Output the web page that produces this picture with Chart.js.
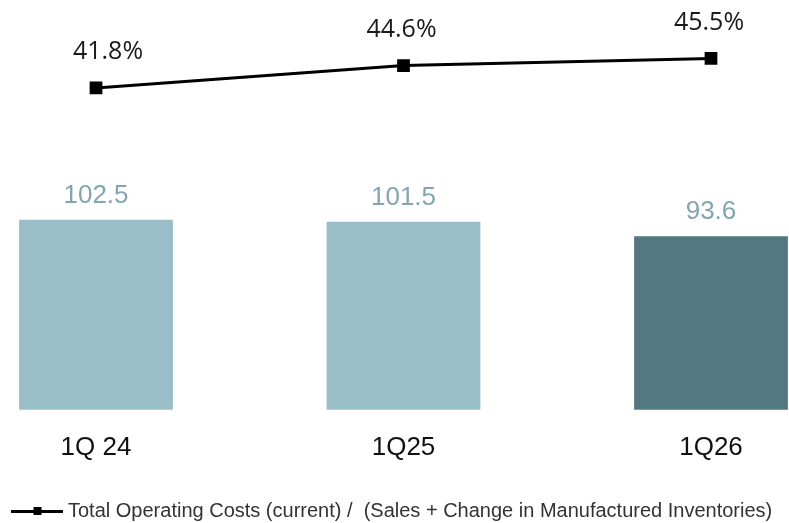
<!DOCTYPE html>
<html>
<head>
<meta charset="utf-8">
<script src="https://cdn.jsdelivr.net/npm/chart.js@4"></script>
<style>
  html, body { margin: 0; padding: 0; background: #fff; }
  #wrap { width: 789px; height: 523px; }
</style>
</head>
<body>
<div id="wrap"><canvas id="costChart"></canvas></div>
<script>
const quarters = ['1Q 24', '1Q25', '1Q26'];
const costValues = [102.5, 101.5, 93.6];
const costRatio = [41.8, 44.6, 45.5];
const ratioLabel = 'Total Operating Costs (current) /  (Sales + Change in Manufactured Inventories)';

const FONT = "'Liberation Sans', Arial, sans-serif";
const PCT_FONT = "'Open Sans', 'Liberation Sans', sans-serif";

// legend marker: short line with a small square in the middle
const marker = document.createElement('canvas');
marker.width = 52; marker.height = 10;
(function () {
    const m = marker.getContext('2d');
    m.fillStyle = '#000';
    m.fillRect(0, 4, 52, 3);
    m.fillRect(23, 1, 8, 8);
})();

const valueLabels = {
    id: 'valueLabels',
    afterDatasetsDraw(chart) {
        const ctx = chart.ctx;
        ctx.save();
        ctx.textAlign = 'center';
        ctx.textBaseline = 'middle';
        chart.data.datasets.forEach((ds, i) => {
            const meta = chart.getDatasetMeta(i);
            meta.data.forEach((el, j) => {
                if (ds.type === 'line') {
                    ctx.fillStyle = '#1a1a1a';
                    ctx.font = '25px ' + PCT_FONT;
                    ctx.fillText(ds.data[j].toFixed(1) + '%', el.x + (j === 0 ? 12 : -2), el.y - 36);
                } else {
                    ctx.fillStyle = '#82a6b0';
                    ctx.font = '26px ' + FONT;
                    ctx.fillText(ds.data[j].toFixed(1), el.x, el.y - 24);
                }
            });
        });
        ctx.restore();
    }
};

new Chart(document.getElementById('costChart'), {
    data: {
        labels: quarters,
        datasets: [
            {
                type: 'line',
                label: ratioLabel,
                data: costRatio,
                yAxisID: 'y1',
                borderColor: '#000',
                borderWidth: 3,
                pointStyle: 'rect',
                pointRadius: 9,
                pointBackgroundColor: '#000',
                pointBorderWidth: 0,
                order: 0
            },
            {
                type: 'bar',
                label: 'Costs',
                data: costValues,
                yAxisID: 'y',
                backgroundColor: ['#99bec8', '#99bec8', '#537882'],
                barPercentage: 0.5,
                categoryPercentage: 1.0,
                clip: false,
                order: 1
            }
        ]
    },
    options: {
        responsive: true,
        maintainAspectRatio: false,
        animation: false,
        layout: { padding: { top: 10, bottom: -8 } },
        plugins: {
            tooltip: { enabled: false },
            legend: {
                position: 'bottom',
                align: 'start',
                labels: {
                    usePointStyle: true,
                    pointStyle: marker,
                    pointStyleWidth: 43,
                    color: '#333',
                    font: { family: FONT, size: 20 },
                    padding: 15,
                    filter: item => item.datasetIndex === 0
                }
            }
        },
        scales: {
            x: {
                offset: false,
                grid: { display: false },
                border: { display: false },
                ticks: { color: '#111', font: { family: FONT, size: 26 }, padding: 14 },
                afterFit(scale) { scale.height += 9; }
            },
            y: {
                position: 'left',
                min: 0,
                max: 215.7,
                grid: { display: false },
                border: { display: false },
                ticks: { display: false },
                afterFit(scale) { scale.width = 96; }
            },
            y1: {
                position: 'right',
                min: 1.55,
                max: 51.55,
                grid: { display: false },
                border: { display: false },
                ticks: { display: false },
                afterFit(scale) { scale.width = 78; }
            }
        }
    },
    plugins: [valueLabels]
});
</script>
</body>
</html>
